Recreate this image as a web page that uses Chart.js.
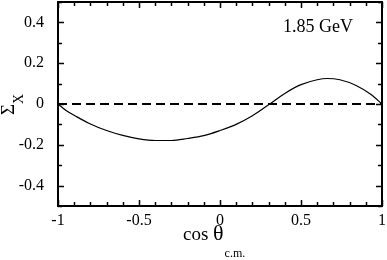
<!DOCTYPE html>
<html>
<head>
<meta charset="utf-8">
<script src="https://cdn.jsdelivr.net/npm/chart.js@4.4.1/dist/chart.umd.min.js"></script>
<style>
  html, body { margin: 0; padding: 0; background: #fff; }
  #wrap { width: 387px; height: 260px; }
</style>
</head>
<body>
<div id="wrap"><canvas id="chart" width="387" height="260"></canvas></div>
<script>
// values
const cosTheta = [-1, -0.95, -0.89, -0.81, -0.7, -0.6, -0.5, -0.4, -0.3, -0.2, -0.1, 0, 0.1, 0.2, 0.3, 0.4, 0.5, 0.6, 0.66, 0.74, 0.84, 0.93, 1];
const sigmaX = [0, -0.032, -0.06, -0.094, -0.13, -0.154, -0.171, -0.179, -0.179, -0.169, -0.155, -0.13, -0.1, -0.058, -0.004, 0.052, 0.095, 0.119, 0.125, 0.119, 0.091, 0.048, 0];
const zeroLineX = [-1, 1];
const zeroLineY = [0, 0];

const xTicks = [-1, -0.5, 0, 0.5, 1];
const yTicks = [-0.4, -0.2, 0, 0.2, 0.4];
const energyLabel = '1.85 GeV';

const serif = "'Liberation Serif', 'DejaVu Serif', serif";
const ink = '#000';

function pairs(xs, ys) {
  return xs.map((x, i) => ({ x, y: ys[i] }));
}

const framePlugin = {
  id: 'frame',
  afterDraw(chart) {
    const { ctx, chartArea: a, scales } = chart;
    const sx = scales.x;
    const sy = scales.y;
    ctx.save();
    ctx.strokeStyle = ink;

    // inward ticks on all four sides
    ctx.lineWidth = 1.5;
    for (let i = -10; i <= 10; i++) {
      const v = i / 10;
      const len = i % 5 === 0 ? 6 : 4;
      const px = Math.round(sx.getPixelForValue(v)) + 0.5;
      ctx.beginPath();
      ctx.moveTo(px, a.bottom); ctx.lineTo(px, a.bottom - len);
      ctx.moveTo(px, a.top); ctx.lineTo(px, a.top + len);
      ctx.stroke();
    }
    for (let i = -5; i <= 5; i++) {
      const v = i / 10;
      const len = i % 2 === 0 ? 6 : 4;
      const py = Math.round(sy.getPixelForValue(v)) + 0.5;
      ctx.beginPath();
      ctx.moveTo(a.left, py); ctx.lineTo(a.left + len, py);
      ctx.moveTo(a.right, py); ctx.lineTo(a.right - len, py);
      ctx.stroke();
    }

    // frame
    ctx.lineWidth = 2;
    ctx.strokeRect(a.left, a.top, a.right - a.left, a.bottom - a.top);

    ctx.fillStyle = ink;
    ctx.textAlign = 'left';
    ctx.textBaseline = 'alphabetic';

    // energy label
    ctx.font = `18px ${serif}`;
    ctx.fillText(energyLabel, 283, 32);

    // x title: cos θ_c.m.
    ctx.font = `19px ${serif}`;
    const cosPart = 'cos ';
    const startX = 183;
    ctx.fillText(cosPart, startX, 240);
    const cw = ctx.measureText(cosPart).width;
    ctx.font = `22px ${serif}`;
    ctx.fillText('θ', startX + cw, 240);
    const tw = ctx.measureText('θ').width;
    ctx.font = `12px ${serif}`;
    ctx.fillText('c.m.', startX + cw + tw + 1, 257);

    // y title: Σ_X rotated
    ctx.translate(14, 115);
    ctx.rotate(-Math.PI / 2);
    ctx.font = `19px ${serif}`;
    ctx.fillText('Σ', 0, 0);
    const sw = ctx.measureText('Σ').width;
    ctx.font = `14px ${serif}`;
    ctx.fillText('X', sw, 9);

    ctx.restore();
  }
};

new Chart(document.getElementById('chart'), {
  type: 'line',
  data: {
    datasets: [
      {
        data: pairs(zeroLineX, zeroLineY),
        borderColor: ink,
        borderWidth: 2,
        borderDash: [9, 5],
        pointRadius: 0,
        fill: false
      },
      {
        data: pairs(cosTheta, sigmaX),
        borderColor: ink,
        borderWidth: 1.2,
        pointRadius: 0,
        cubicInterpolationMode: 'monotone',
        fill: false
      }
    ]
  },
  options: {
    responsive: false,
    animation: false,
    devicePixelRatio: 1,
    layout: { padding: { top: 2, right: 5, left: 0, bottom: 0 } },
    plugins: {
      legend: { display: false },
      tooltip: { enabled: false }
    },
    scales: {
      x: {
        type: 'linear',
        min: -1,
        max: 1,
        grid: { display: false },
        border: { display: false },
        afterBuildTicks: (scale) => { scale.ticks = xTicks.map((value) => ({ value })); },
        afterFit: (scale) => {
          scale.height = 54;
          scale.paddingLeft = 0;
          scale.paddingRight = 0;
        },
        ticks: {
          color: ink,
          font: { family: serif, size: 16 },
          padding: -3,
          maxRotation: 0,
          autoSkip: false,
          callback: (v) => String(v)
        }
      },
      y: {
        type: 'linear',
        min: -0.5,
        max: 0.5,
        grid: { display: false },
        border: { display: false },
        afterBuildTicks: (scale) => { scale.ticks = yTicks.map((value) => ({ value })); },
        afterFit: (scale) => {
          scale.width = 58;
          scale.paddingTop = 0;
          scale.paddingBottom = 0;
        },
        ticks: {
          color: ink,
          font: { family: serif, size: 16 },
          padding: 6,
          autoSkip: false,
          callback: (v) => String(Math.round(v * 10) / 10)
        }
      }
    }
  },
  plugins: [framePlugin]
});
</script>
</body>
</html>
